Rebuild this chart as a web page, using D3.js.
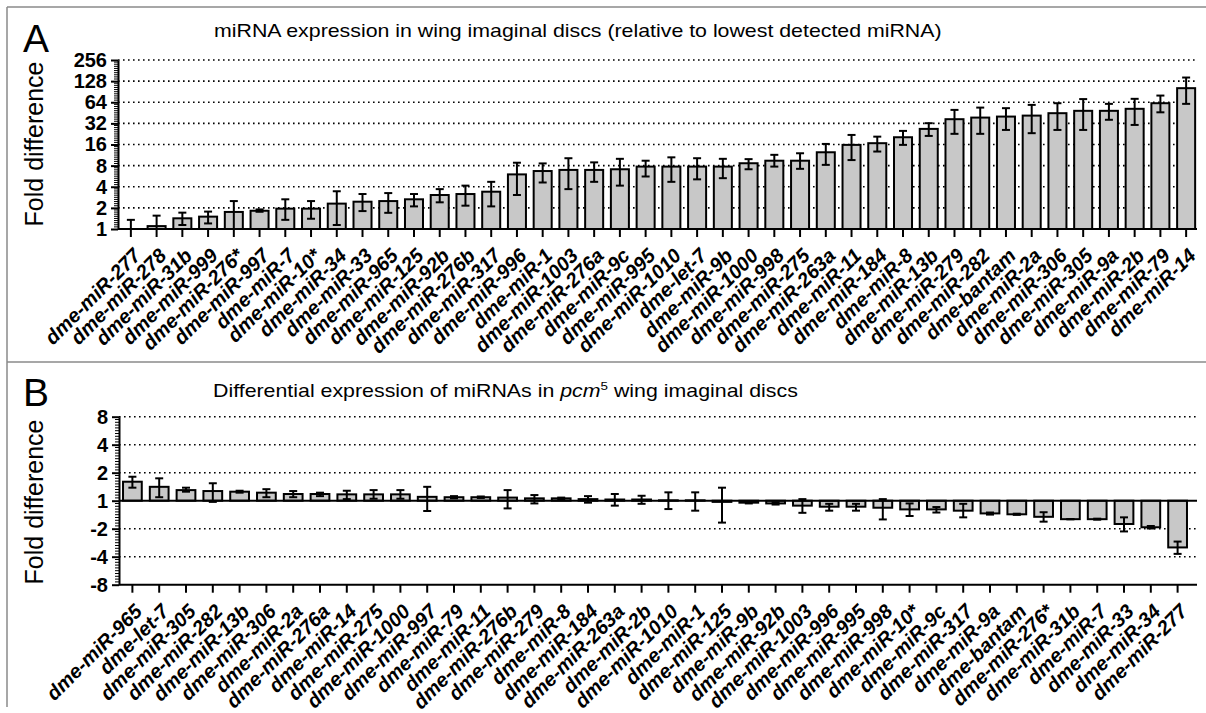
<!DOCTYPE html>
<html>
<head>
<meta charset="utf-8">
<script src="https://cdn.jsdelivr.net/npm/d3@7"></script>
<style>
  body { margin: 0; background: #fff; }
  svg { display: block; font-family: "Liberation Sans", Arial, sans-serif; }
</style>
</head>
<body>
<script>
  // ---- panel A data (fold difference, mean and error bar ends) ----
  const labelsA = ["dme-miR-277","dme-miR-278","dme-miR-31b","dme-miR-999","dme-miR-276*","dme-miR-997",
    "dme-miR-7","dme-miR-10*","dme-miR-34","dme-miR-33","dme-miR-965","dme-miR-125","dme-miR-92b",
    "dme-miR-276b","dme-miR-317","dme-miR-996","dme-miR-1","dme-miR-1003","dme-miR-276a","dme-miR-9c",
    "dme-miR-995","dme-miR-1010","dme-let-7","dme-miR-9b","dme-miR-1000","dme-miR-998","dme-miR-275",
    "dme-miR-263a","dme-miR-11","dme-miR-184","dme-miR-8","dme-miR-13b","dme-miR-279","dme-miR-282",
    "dme-bantam","dme-miR-2a","dme-miR-306","dme-miR-305","dme-miR-9a","dme-miR-2b","dme-miR-79","dme-miR-14"];
  const valuesA = [1.0,1.1,1.42,1.5,1.75,1.82,1.95,1.95,2.3,2.45,2.5,2.65,3.05,3.15,3.4,6.0,6.7,6.95,6.95,7.1,
    7.75,7.75,7.75,7.75,8.65,9.4,9.4,12.4,15.8,16.7,20.3,26.7,36.7,38.7,40.0,41.3,44.7,48.3,48.3,51.6,62.0,101.6];
  const lowA = [1.0,1.0,1.14,1.2,1.0,1.76,1.35,1.4,1.14,1.8,1.7,2.1,2.4,2.15,2.1,3.05,4.6,3.7,4.7,4.15,
    5.6,4.7,5.1,5.3,7.1,7.75,7.2,8.2,9.6,12.7,15.8,21.2,22.7,22.7,25.8,23.2,25.8,25.8,36.0,30.4,46.0,60.7];
  const highA = [1.35,1.55,1.71,1.77,2.5,1.9,2.65,2.5,3.45,3.15,3.25,3.15,3.7,4.15,4.7,8.8,8.6,10.2,8.9,10.0,
    9.4,10.5,10.2,10.0,9.9,11.4,12.0,16.3,21.9,20.7,25.0,32.2,49.8,53.7,52.7,58.7,62.0,71.0,60.7,71.6,79.7,144.0];
  const ticksA = [1,2,4,8,16,32,64,128,256];

  // ---- panel B data (signed fold difference: negative = down-regulated) ----
  const labelsB = ["dme-miR-965","dme-let-7","dme-miR-305","dme-miR-282","dme-miR-13b","dme-miR-306","dme-miR-2a",
    "dme-miR-276a","dme-miR-14","dme-miR-275","dme-miR-1000","dme-miR-997","dme-miR-79","dme-miR-11","dme-miR-276b",
    "dme-miR-279","dme-miR-8","dme-miR-184","dme-miR-263a","dme-miR-2b","dme-miR-1010","dme-miR-1","dme-miR-125",
    "dme-miR-9b","dme-miR-92b","dme-miR-1003","dme-miR-996","dme-miR-995","dme-miR-998","dme-miR-10*","dme-miR-9c",
    "dme-miR-317","dme-miR-9a","dme-bantam","dme-miR-276*","dme-miR-31b","dme-miR-7","dme-miR-33","dme-miR-34","dme-miR-277"];
  const valuesB = [1.6,1.41,1.3,1.27,1.25,1.22,1.18,1.18,1.17,1.17,1.17,1.1,1.09,1.09,1.08,1.06,1.06,1.04,1.03,1.03,
    1.01,1.01,-1.03,-1.05,-1.07,-1.13,-1.16,-1.16,-1.19,-1.24,-1.24,-1.28,-1.37,-1.4,-1.49,-1.58,-1.58,-1.78,-1.93,-3.18];
  const lowB = [1.38,1.09,1.25,-1.03,1.22,1.09,1.09,1.12,1.04,1.05,1.05,-1.29,1.06,1.07,-1.21,-1.07,1.04,-1.05,-1.13,-1.08,
    -1.23,-1.28,-1.72,-1.07,-1.1,-1.35,-1.28,-1.28,-1.59,-1.46,-1.34,-1.51,-1.41,-1.42,-1.68,-1.58,-1.6,-2.14,-1.99,-3.73];
  const highB = [1.81,1.74,1.38,1.54,1.28,1.33,1.27,1.22,1.28,1.3,1.3,1.41,1.12,1.11,1.3,1.15,1.08,1.12,1.18,1.13,
    1.23,1.23,1.38,-1.03,-1.04,1.04,-1.08,-1.08,1.04,-1.07,-1.17,-1.08,-1.34,-1.38,-1.33,-1.58,-1.56,-1.51,-1.87,-2.75];
  const ticksB = [-8,-4,-2,1,2,4,8];

  const width = 1206, height = 713;
  const axisRight = 1197;
  const barFill = "#c8c8c8";

  const svg = d3.select("body").append("svg")
      .attr("width", width)
      .attr("height", height);

  // panel frame: left edge, top edge and the divider between A and B
  const frame = svg.append("g").attr("stroke", "#8a8a8a").attr("stroke-width", 1.5);
  frame.append("line").attr("x1", 7).attr("x2", 7).attr("y1", 7).attr("y2", 707);
  frame.append("line").attr("x1", 7).attr("x2", width).attr("y1", 7).attr("y2", 7);
  frame.append("line").attr("x1", 7).attr("x2", width).attr("y1", 362).attr("y2", 362);

  // signed log2 used by panel B: 1 -> 0, 2 -> 1, -2 -> -1 ...
  const slog = v => v >= 1 ? Math.log2(v) : -Math.log2(-v);

  function styleLabels(g) {
    g.selectAll(".tick text")
      .attr("x", 0).attr("y", 0).attr("dy", null)
      .attr("transform", "translate(11,28) rotate(-45)")
      .style("text-anchor", "end")
      .style("font-size", "20px")
      .style("font-weight", "bold")
      .style("font-style", "italic")
      .attr("fill", "#000");
  }

  function styleYAxis(g) {
    g.select(".domain").attr("stroke-width", 2);
    g.selectAll(".tick line").attr("stroke-width", 2);
    g.selectAll(".tick text").style("font-size", "20px").style("font-weight", "bold").attr("fill", "#000");
  }

  // headline text, widened to the span it has in the figure
  function title(x, y, w) {
    const t = svg.append("text").attr("x", 0).attr("y", 0).style("font-size", "17.5px");
    return { t, fit: () => {
      const len = t.node().getComputedTextLength();
      t.attr("transform", "translate(" + x + "," + y + ") scale(" + (w / len) + ",1)");
    }};
  }

  function errorBars(g, x, yPos, lows, highs, labels) {
    const cap = 4;
    labels.forEach((lab, i) => {
      const cx = x(lab) + x.bandwidth() / 2;
      const y1 = yPos(lows[i]), y2 = yPos(highs[i]);
      g.append("line").attr("x1", cx).attr("x2", cx).attr("y1", y1).attr("y2", y2);
      g.append("line").attr("x1", cx - cap).attr("x2", cx + cap).attr("y1", y1).attr("y2", y1);
      g.append("line").attr("x1", cx - cap).attr("x2", cx + cap).attr("y1", y2).attr("y2", y2);
    });
    g.attr("stroke", "#000").attr("stroke-width", 2);
  }

  // ================= panel A =================
  const xA = d3.scaleBand().domain(labelsA).range([118, 1199]).paddingInner(0.3).paddingOuter(0.15);
  const yA = d3.scaleLog().base(2).domain([1, 256]).range([229, 60]);

  // dotted gridlines
  svg.append("g").selectAll("line")
    .data(ticksA.slice(1))
    .enter().append("line")
      .attr("x1", 118).attr("x2", axisRight)
      .attr("y1", d => yA(d)).attr("y2", d => yA(d))
      .attr("stroke", "#000").attr("stroke-width", 1.6).attr("stroke-dasharray", "1.6,3.4");

  svg.append("g").selectAll("rect")
    .data(labelsA)
    .enter().append("rect")
      .attr("x", d => xA(d))
      .attr("y", (d, i) => yA(valuesA[i]))
      .attr("width", xA.bandwidth())
      .attr("height", (d, i) => yA(1) - yA(valuesA[i]))
      .attr("fill", barFill).attr("stroke", "#000").attr("stroke-width", 2);

  errorBars(svg.append("g"), xA, d => yA(d), lowA, highA, labelsA);

  // minor ticks on the log axis
  const minorA = svg.append("g").attr("stroke", "#000").attr("stroke-width", 1);
  for (let k = 0; k < 8; k++) {
    for (let m = 1; m < 10; m++) {
      const yy = yA(Math.pow(2, k + m / 10));
      minorA.append("line").attr("x1", 114).attr("x2", 118).attr("y1", yy).attr("y2", yy);
    }
  }

  const gyA = svg.append("g").attr("transform", "translate(118,0)")
    .call(d3.axisLeft(yA).tickValues(ticksA).tickFormat(d3.format("d")).tickSize(7).tickSizeOuter(0).tickPadding(4));
  styleYAxis(gyA);

  const gxA = svg.append("g").attr("transform", "translate(0,229)")
    .call(d3.axisBottom(xA).tickSize(8).tickSizeOuter(0));
  gxA.select(".domain").attr("stroke-width", 2).attr("d", "M118,0H" + axisRight);
  gxA.selectAll(".tick line").attr("stroke-width", 2);
  styleLabels(gxA);

  svg.append("text").attr("x", 23).attr("y", 52).style("font-size", "39px").text("A");
  const tA = title(214, 37, 728);
  tA.t.text("miRNA expression in wing imaginal discs (relative to lowest detected miRNA)");
  tA.fit();
  svg.append("text").attr("transform", "translate(43,144) rotate(-90)").attr("text-anchor", "middle")
    .style("font-size", "25px").text("Fold difference");

  // ================= panel B =================
  const xB = d3.scaleBand().domain(labelsB).range([119, 1191]).paddingInner(0.3).paddingOuter(0.15);
  const yB = d3.scaleLinear().domain([-3, 3]).range([584.7, 416.7]);

  svg.append("g").selectAll("line")
    .data(ticksB.filter(d => d !== 1 && d !== -8))
    .enter().append("line")
      .attr("x1", 119).attr("x2", axisRight)
      .attr("y1", d => yB(slog(d))).attr("y2", d => yB(slog(d)))
      .attr("stroke", "#000").attr("stroke-width", 1.6).attr("stroke-dasharray", "1.6,3.4");

  svg.append("g").selectAll("rect")
    .data(labelsB)
    .enter().append("rect")
      .attr("x", d => xB(d))
      .attr("y", (d, i) => Math.min(yB(0), yB(slog(valuesB[i]))))
      .attr("width", xB.bandwidth())
      .attr("height", (d, i) => Math.abs(yB(0) - yB(slog(valuesB[i]))))
      .attr("fill", barFill).attr("stroke", "#000").attr("stroke-width", 2);

  // reference line at 1
  svg.append("line").attr("x1", 119).attr("x2", axisRight)
    .attr("y1", yB(0)).attr("y2", yB(0)).attr("stroke", "#000").attr("stroke-width", 2);

  errorBars(svg.append("g"), xB, d => yB(slog(d)), lowB, highB, labelsB);

  const minorB = svg.append("g").attr("stroke", "#000").attr("stroke-width", 1);
  for (let k = -3; k < 3; k++) {
    for (let m = 1; m < 10; m++) {
      const yy = yB(k + m / 10);
      minorB.append("line").attr("x1", 115).attr("x2", 119).attr("y1", yy).attr("y2", yy);
    }
  }

  const gyB = svg.append("g").attr("transform", "translate(119,0)")
    .call(d3.axisLeft(yB).tickValues(ticksB.map(slog)).tickFormat((d, i) => ticksB[i])
      .tickSize(7).tickSizeOuter(0).tickPadding(4));
  styleYAxis(gyB);

  const gxB = svg.append("g").attr("transform", "translate(0," + yB(-3) + ")")
    .call(d3.axisBottom(xB).tickSize(8).tickSizeOuter(0));
  gxB.select(".domain").attr("stroke-width", 2).attr("d", "M119,0H" + axisRight);
  gxB.selectAll(".tick line").attr("stroke-width", 2);
  styleLabels(gxB);

  svg.append("text").attr("x", 23).attr("y", 406).style("font-size", "39px").text("B");
  const tB = title(213, 397, 585);
  tB.t.append("tspan").text("Differential expression of miRNAs in ");
  tB.t.append("tspan").style("font-style", "italic").text("pcm");
  tB.t.append("tspan").attr("dy", -7).style("font-size", "11px").text("5");
  tB.t.append("tspan").attr("dy", 7).text(" wing imaginal discs");
  tB.fit();
  svg.append("text").attr("transform", "translate(43,502) rotate(-90)").attr("text-anchor", "middle")
    .style("font-size", "25px").text("Fold difference");
</script>
</body>
</html>
